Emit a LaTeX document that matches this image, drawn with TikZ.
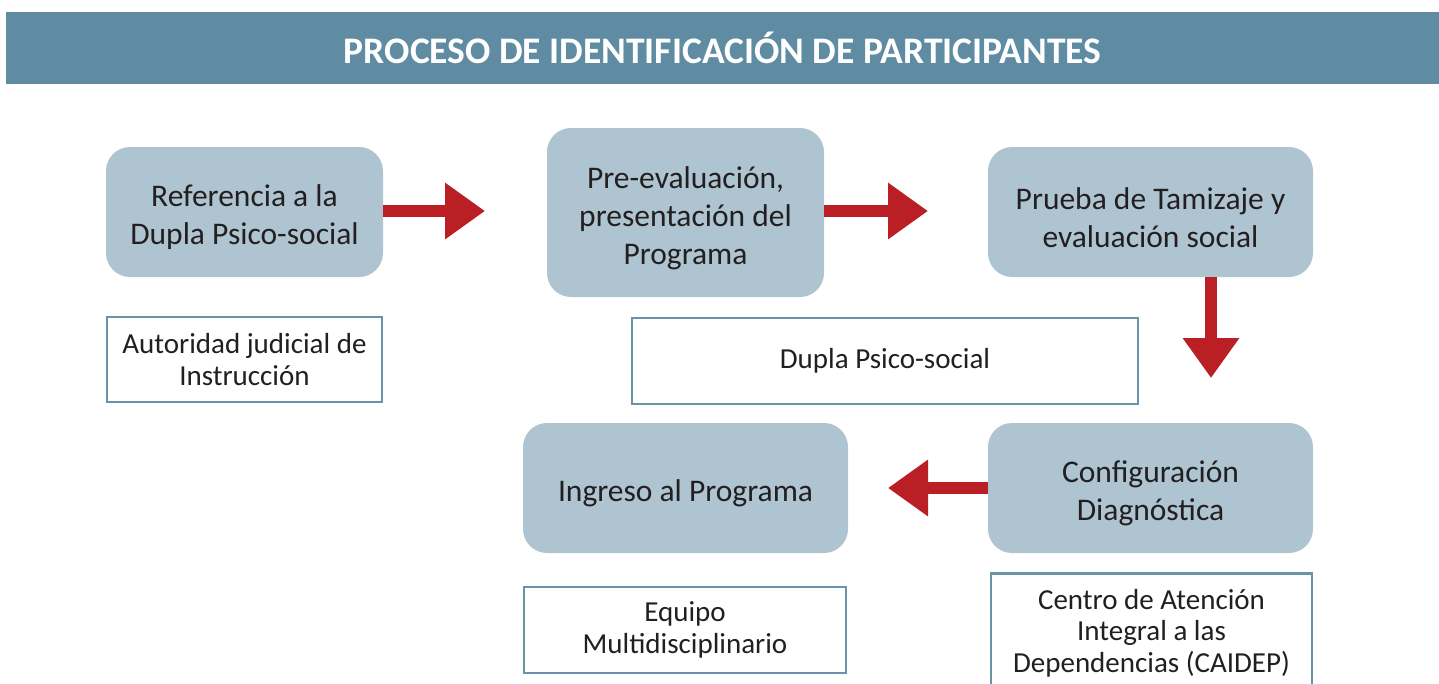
\documentclass[tikz,border=0pt]{standalone}
\usepackage{fontspec}
\setmainfont{Carlito}
\usetikzlibrary{arrows.meta,positioning}
\definecolor{hdr}{HTML}{5F8CA3}
\definecolor{boxfill}{HTML}{AEC4D1}
\definecolor{outl}{HTML}{6A93A8}
\definecolor{arr}{HTML}{B91F24}
\definecolor{txt}{HTML}{231F20}
\newcommand{\dnstrut}{\rule{0pt}{33pt}}
\tikzset{
  stepbox/.style={fill=boxfill, rounded corners=24pt, align=center, text=txt,
    font=\fontsize{31.5}{38}\selectfont, inner sep=0pt},
  infobox/.style={draw=outl, line width=2.5pt, fill=white, align=center, text=txt,
    font=\fontsize{29}{31.5}\selectfont, inner sep=0pt},
  bigarrow/.style={draw=arr, line width=12pt, -{Triangle[width=54pt,length=40pt]}, arr},
}
\begin{document}
\begin{tikzpicture}[x=1pt,y=-1pt]
\useasboundingbox (0,0) rectangle (1439,683);
% header
\node[fill=hdr, minimum width=1433pt, minimum height=72pt, inner sep=0pt, anchor=north west,
  text=white, font=\fontsize{37.5}{40}\bfseries\selectfont] (title) at (6,12) {PROCESO DE IDENTIFICACIÓN DE PARTICIPANTES};
% step boxes
\node[stepbox, minimum width=277pt, minimum height=130pt] (ref) at (244.5,212) {\dnstrut Referencia a la\\Dupla Psico-social};
\node[stepbox, minimum width=277pt, minimum height=169pt] (pre) at (685.5,212.5) {\dnstrut Pre-evaluación,\\presentación del\\Programa};
\node[stepbox, minimum width=325pt, minimum height=130pt] (pru) at (1150.5,212) {\dnstrut Prueba de Tamizaje y\\evaluación social};
\node[stepbox, minimum width=325pt, minimum height=130pt] (ing) at (685.5,488) {\dnstrut Ingreso al Programa};
\node[stepbox, minimum width=325pt, minimum height=130pt] (con) at (1150.5,488) {\dnstrut Configuración\\Diagnóstica};
% info boxes
\node[infobox, minimum width=275pt, minimum height=85pt] (aut) at (244.5,359.5) {Autoridad judicial de\\Instrucción};
\node[infobox, minimum width=506pt, minimum height=86pt] (dup) at (885,361) {Dupla Psico-social};
\node[infobox, minimum width=322pt, minimum height=86pt] (equ) at (685,630) {Equipo\\Multidisciplinario};
\node[infobox, minimum width=321pt, minimum height=130pt, anchor=north] (cai) at (1151.5,572) {};
\node[align=center, text=txt, font=\fontsize{29}{31.5}\selectfont, anchor=north, inner sep=0pt] (caitxt) at ([yshift=-17pt]cai.north) {Centro de Atención\\Integral a las\\Dependencias (CAIDEP)};
% arrow tips
\coordinate (t1) at (485,211);
\coordinate (t2) at (928,211);
\coordinate (t3) at (1211,378);
\coordinate (t4) at (888,488);
\draw[bigarrow] (ref.east |- t1) -- (t1);
\draw[bigarrow] (pre.east |- t2) -- (t2);
\draw[bigarrow] (pru.south -| t3) -- (t3);
\draw[bigarrow] (con.west) -- (t4);
\end{tikzpicture}
\end{document}
